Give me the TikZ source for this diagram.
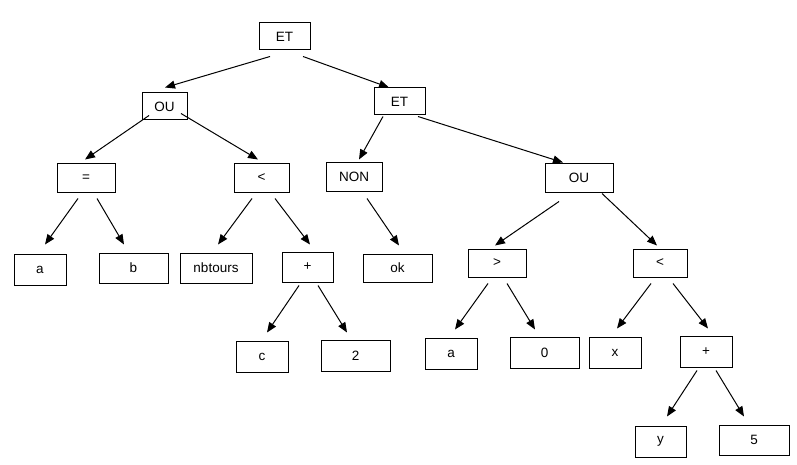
\documentclass[tikz,border=0pt]{standalone}
\usepackage{fontspec}
\setmainfont{Liberation Sans}
\usetikzlibrary{arrows.meta,calc}

\tikzset{
  box/.style={draw, line width=1pt, inner sep=0pt, font=\fontsize{13.5}{16}\selectfont},
  arr/.style={line width=1pt, -{Triangle[length=10pt,width=8pt]}}
}

\begin{document}
\begin{tikzpicture}[x=1pt, y=-1pt]

\useasboundingbox (0,0) rectangle (797,465);

% operators
\node[box, minimum width=51pt, minimum height=27pt] (et) at (284.5,36.5) {ET};
\node[box, minimum width=45pt, minimum height=27pt] (ou1) at (164.5,106.5) {OU};
\node[box, minimum width=51pt, minimum height=27pt] (et2) at (399.5,101.5) {ET};
\node[box, minimum width=58pt, minimum height=28pt] (eq) at (86,178) {=};
\node[box, minimum width=55pt, minimum height=28pt] (lt1) at (261.5,178) {<};
\node[box, minimum width=56pt, minimum height=28pt] (non) at (354,177) {NON};
\node[box, minimum width=68pt, minimum height=28pt] (ou2) at (579,178) {OU};
\node[box, minimum width=51pt, minimum height=30pt] (plus1) at (307.5,267) {+};
\node[box, minimum width=58pt, minimum height=28pt] (gt) at (497,263) {>};
\node[box, minimum width=54pt, minimum height=28pt] (lt2) at (660,263) {<};
\node[box, minimum width=52pt, minimum height=31pt] (plus2) at (706,351.5) {+};

% leaves
\node[box, minimum width=52pt, minimum height=31pt] (a1) at (40,269.5) {a};
\node[box, minimum width=69pt, minimum height=30pt] (b) at (133.5,268) {b};
\node[box, minimum width=72pt, minimum height=30pt] (nbt) at (216,268) {nbtours};
\node[box, minimum width=69pt, minimum height=28pt] (ok) at (397.5,268) {ok};
\node[box, minimum width=52pt, minimum height=31pt] (c) at (262,356.5) {c};
\node[box, minimum width=69pt, minimum height=31pt] (two) at (355.5,355.5) {2};
\node[box, minimum width=52pt, minimum height=31pt] (a2) at (451,353.5) {a};
\node[box, minimum width=69pt, minimum height=31pt] (zero) at (544.5,352.5) {0};
\node[box, minimum width=52pt, minimum height=31pt] (x) at (615,352.5) {x};
\node[box, minimum width=51pt, minimum height=31pt] (y) at (660.5,441.5) {y};
\node[box, minimum width=70pt, minimum height=30pt] (five) at (754,440) {5};

% arrows
\draw[arr] ($(et.south)+(-14.5,6)$) -- ($(ou1.north)+(0.5,-5)$);
\draw[arr] ($(et.south)+(18.5,6)$) -- ($(et2.north)+(-10.5,0)$);
\draw[arr] ($(ou1.south)+(-15.5,-5)$) -- ($(eq.north)+(-1,-4)$);
\draw[arr] ($(ou1.south)+(16.5,-7)$) -- ($(lt1.north)+(-3.5,-4)$);
\draw[arr] ($(et2.south)+(-16.5,1)$) -- ($(non.north)+(5,-3)$);
\draw[arr] ($(et2.south)+(18.5,1)$) -- ($(ou2.north)+(-16,-1)$);
\draw[arr] ($(eq.south)+(-8,6)$) -- ($(a1.north)+(5,-9)$);
\draw[arr] ($(eq.south)+(11,6)$) -- ($(b.north)+(-9.5,-8)$);
\draw[arr] ($(lt1.south)+(-9.5,6)$) -- ($(nbt.north)+(2,-8)$);
\draw[arr] ($(lt1.south)+(13.5,6)$) -- ($(plus1.north)+(2.5,-7)$);
\draw[arr] ($(non.south)+(13,7)$) -- ($(ok.north)+(1.5,-8)$);
\draw[arr] ($(ou2.south)+(-20,9)$) -- ($(gt.north)+(-2,-3)$);
\draw[arr] ($(ou2.south)+(23,1)$) -- ($(lt2.north)+(-3,-3)$);
\draw[arr] ($(plus1.south)+(-8.5,3)$) -- ($(c.north)+(5,-8)$);
\draw[arr] ($(plus1.south)+(10.5,3)$) -- ($(two.north)+(-8.5,-7)$);
\draw[arr] ($(gt.south)+(-9,6)$) -- ($(a2.north)+(4,-8)$);
\draw[arr] ($(gt.south)+(10,6)$) -- ($(zero.north)+(-9.5,-7)$);
\draw[arr] ($(lt2.south)+(-9,6)$) -- ($(x.north)+(2,-8)$);
\draw[arr] ($(lt2.south)+(13,6)$) -- ($(plus2.north)+(2,-7)$);
\draw[arr] ($(plus2.south)+(-9,3)$) -- ($(y.north)+(6.5,-9)$);
\draw[arr] ($(plus2.south)+(10,3)$) -- ($(five.north)+(-10,-8)$);

\end{tikzpicture}
\end{document}
